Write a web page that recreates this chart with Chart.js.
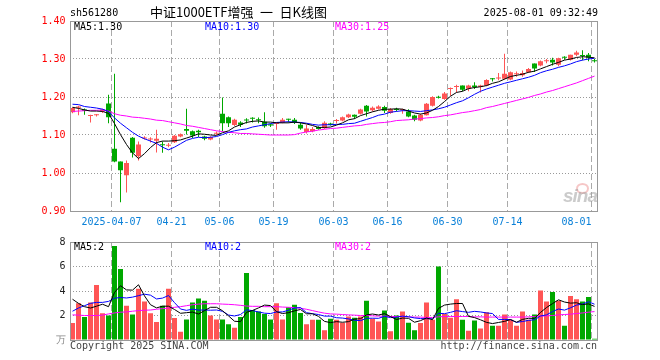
<!DOCTYPE html>
<html><head><meta charset="utf-8">
<script src="https://cdn.jsdelivr.net/npm/chart.js@4.4.1/dist/chart.umd.min.js"></script>
<style>
body{margin:0;background:#fff;}
#wrap{position:relative;width:660px;height:360px;overflow:hidden;background:#fff;font-family:'DejaVu Sans Mono',monospace;}
.t{position:absolute;font-size:10px;line-height:12px;white-space:pre;color:#000;}
canvas{position:absolute;left:0;}
</style></head><body>
<div id="wrap">
<canvas id="pc" width="660" height="232" style="top:0px"></canvas>
<canvas id="vc" width="660" height="128" style="top:232px"></canvas>
<div class="t" style="left:70px;top:7px;">sh561280</div>
<div class="t" style="left:150px;top:3px;font-family:'Noto Sans CJK SC';font-size:13px;line-height:18px;">中证1000ETF增强&#8194;一&#8194;日K线图</div>
<div class="t" style="right:62px;top:7px;">2025-08-01 09:32:49</div>
<div class="t" style="left:74px;top:21px;">MA5:1.30</div>
<div class="t" style="left:205px;top:21px;color:#0000ff;">MA10:1.30</div>
<div class="t" style="left:335px;top:21px;color:#ff00ff;">MA30:1.25</div>
<div class="t" style="left:74px;top:241px;">MA5:2</div>
<div class="t" style="left:205px;top:241px;color:#0000ff;">MA10:2</div>
<div class="t" style="left:335px;top:241px;color:#ff00ff;">MA30:2</div>
<div class="t" style="left:70px;top:340px;color:#444;">Copyright 2025 SINA.COM</div>
<div class="t" style="right:63px;top:340px;color:#444;">http://finance.sina.com.cn</div>
<div style="position:absolute;left:576px;top:183px;width:9px;height:7px;border-radius:50%;border:2px solid rgba(235,130,130,0.45);"></div>
<div class="t" style="left:563px;top:186px;font-family:'Liberation Sans';font-weight:bold;font-style:italic;font-size:19px;line-height:20px;color:rgba(160,160,160,0.55);letter-spacing:-1px;">sina</div>
</div>
<script>
const categories = [
'2025-03-26','2025-03-27','2025-03-28','2025-03-31','2025-04-01','2025-04-02','2025-04-03',
'2025-04-07','2025-04-08','2025-04-09','2025-04-10','2025-04-11',
'2025-04-14','2025-04-15','2025-04-16','2025-04-17','2025-04-18',
'2025-04-21','2025-04-22','2025-04-23','2025-04-24','2025-04-25',
'2025-04-28','2025-04-29','2025-04-30',
'2025-05-06','2025-05-07','2025-05-08','2025-05-09',
'2025-05-12','2025-05-13','2025-05-14','2025-05-15','2025-05-16',
'2025-05-19','2025-05-20','2025-05-21','2025-05-22','2025-05-23',
'2025-05-26','2025-05-27','2025-05-28','2025-05-29','2025-05-30',
'2025-06-03','2025-06-04','2025-06-05','2025-06-06',
'2025-06-09','2025-06-10','2025-06-11','2025-06-12','2025-06-13',
'2025-06-16','2025-06-17','2025-06-18','2025-06-19','2025-06-20',
'2025-06-23','2025-06-24','2025-06-25','2025-06-26','2025-06-27',
'2025-06-30',
'2025-07-01','2025-07-02','2025-07-03','2025-07-04',
'2025-07-07','2025-07-08','2025-07-09','2025-07-10','2025-07-11',
'2025-07-14','2025-07-15','2025-07-16','2025-07-17','2025-07-18',
'2025-07-21','2025-07-22','2025-07-23','2025-07-24','2025-07-25',
'2025-07-28','2025-07-29','2025-07-30','2025-07-31',
'2025-08-01'];

const tickDates = ['2025-04-07','2025-04-21','2025-05-06','2025-05-19','2025-06-03','2025-06-16','2025-06-30','2025-07-14','2025-08-01'];
const tickTexts = ['2025-04-07','04-21','05-06','05-19','06-03','06-16','06-30','07-14','08-01     '];
const priceTicks = [0.9, 1.0, 1.1, 1.2, 1.3, 1.4];
const volumeTicks = [0, 2, 4, 6, 8];

const openP = [1.160,1.172,1.167,1.150,1.152,1.162,1.183,1.064,1.030,0.994,
 1.093,1.044,1.091,1.088,1.085,1.075,1.072,1.081,1.096,1.116,
 1.110,1.111,1.096,1.088,1.103,1.156,1.147,1.126,1.133,1.139,
 1.144,1.140,1.135,1.128,1.129,1.133,1.142,1.140,1.127,1.108,
 1.110,1.121,1.118,1.130,1.137,1.138,1.147,1.153,1.156,1.177,
 1.165,1.169,1.174,1.158,1.168,1.165,1.162,1.151,1.138,1.152,
 1.177,1.199,1.195,1.221,1.226,1.230,1.222,1.230,1.227,1.230,
 1.248,1.249,1.248,1.246,1.260,1.257,1.265,1.288,1.283,1.294,
 1.298,1.285,1.304,1.298,1.311,1.309,1.311,1.295];
const highP = [1.173,1.177,1.170,1.153,1.155,1.169,1.206,1.261,1.030,1.033,
 1.095,1.083,1.097,1.094,1.114,1.083,1.079,1.100,1.104,1.169,
 1.112,1.114,1.098,1.097,1.109,1.199,1.149,1.143,1.136,1.144,
 1.147,1.146,1.160,1.130,1.133,1.145,1.143,1.145,1.133,1.127,
 1.121,1.123,1.136,1.132,1.142,1.149,1.156,1.154,1.169,1.179,
 1.175,1.178,1.177,1.171,1.172,1.169,1.168,1.153,1.156,1.184,
 1.202,1.203,1.213,1.225,1.232,1.230,1.232,1.239,1.232,1.247,
 1.250,1.263,1.314,1.267,1.267,1.270,1.276,1.288,1.296,1.300,
 1.303,1.303,1.307,1.311,1.322,1.323,1.316,1.300];
const lowP = [1.157,1.152,1.153,1.133,1.149,1.158,1.131,1.028,0.923,0.949,
 1.041,1.033,1.088,1.080,1.054,1.053,1.068,1.079,1.094,1.101,
 1.092,1.095,1.086,1.086,1.100,1.110,1.121,1.124,1.121,1.130,
 1.133,1.131,1.119,1.121,1.114,1.131,1.133,1.129,1.114,1.104,
 1.107,1.114,1.116,1.125,1.130,1.136,1.145,1.142,1.154,1.149,
 1.162,1.167,1.158,1.156,1.162,1.156,1.147,1.136,1.136,1.151,
 1.175,1.196,1.193,1.203,1.212,1.215,1.215,1.221,1.212,1.228,
 1.241,1.244,1.246,1.244,1.253,1.253,1.263,1.266,1.281,1.289,
 1.283,1.281,1.298,1.296,1.307,1.297,1.294,1.291];
const closeP = [1.171,1.175,1.163,1.152,1.154,1.167,1.147,1.030,1.007,1.026,
 1.053,1.075,1.093,1.090,1.090,1.073,1.074,1.098,1.102,1.111,
 1.099,1.107,1.090,1.095,1.106,1.131,1.131,1.140,1.127,1.138,
 1.143,1.139,1.123,1.125,1.131,1.140,1.140,1.133,1.117,1.117,
 1.116,1.116,1.132,1.126,1.139,1.147,1.154,1.148,1.167,1.162,
 1.172,1.175,1.164,1.168,1.166,1.167,1.149,1.140,1.153,1.182,
 1.200,1.198,1.209,1.223,1.228,1.219,1.230,1.226,1.230,1.245,
 1.247,1.251,1.261,1.265,1.262,1.263,1.274,1.275,1.294,1.295,
 1.291,1.302,1.303,1.311,1.317,1.308,1.303,1.294];
const ma5P = [1.173,1.170,1.166,1.163,1.163,1.162,1.157,1.130,1.101,1.075,
 1.053,1.038,1.051,1.067,1.080,1.084,1.084,1.085,1.087,1.092,
 1.097,1.103,1.102,1.100,1.099,1.106,1.111,1.121,1.127,1.133,
 1.136,1.137,1.134,1.134,1.132,1.132,1.132,1.134,1.132,1.129,
 1.125,1.120,1.120,1.121,1.126,1.132,1.140,1.143,1.151,1.156,
 1.161,1.165,1.168,1.168,1.169,1.168,1.163,1.158,1.155,1.158,
 1.165,1.175,1.188,1.202,1.212,1.215,1.222,1.225,1.227,1.230,
 1.236,1.240,1.247,1.254,1.257,1.260,1.265,1.268,1.274,1.280,
 1.286,1.291,1.297,1.300,1.304,1.306,1.305,1.303];
const ma10P = [1.181,1.180,1.175,1.173,1.171,1.168,1.162,1.145,1.131,1.119,
 1.107,1.097,1.090,1.084,1.078,1.068,1.061,1.068,1.077,1.086,
 1.091,1.094,1.093,1.094,1.096,1.101,1.107,1.111,1.114,1.116,
 1.121,1.124,1.127,1.130,1.133,1.134,1.135,1.134,1.133,1.131,
 1.128,1.126,1.127,1.127,1.128,1.128,1.130,1.131,1.136,1.141,
 1.146,1.152,1.155,1.160,1.162,1.164,1.164,1.163,1.162,1.164,
 1.166,1.169,1.173,1.179,1.185,1.190,1.198,1.207,1.215,1.221,
 1.226,1.231,1.236,1.240,1.244,1.248,1.252,1.257,1.264,1.269,
 1.273,1.278,1.282,1.287,1.293,1.297,1.300,1.302];
const ma30P = [1.162,1.163,1.164,1.165,1.165,1.166,1.163,1.156,1.152,1.150,
 1.147,1.146,1.144,1.142,1.139,1.138,1.135,1.132,1.129,1.125,
 1.123,1.120,1.117,1.114,1.111,1.109,1.107,1.106,1.104,1.104,
 1.103,1.102,1.101,1.100,1.100,1.100,1.100,1.101,1.105,1.108,
 1.110,1.113,1.115,1.117,1.118,1.120,1.122,1.124,1.125,1.128,
 1.130,1.132,1.133,1.135,1.138,1.139,1.140,1.142,1.143,1.145,
 1.146,1.148,1.151,1.153,1.156,1.159,1.161,1.164,1.167,1.172,
 1.175,1.179,1.183,1.187,1.191,1.195,1.199,1.204,1.208,1.213,
 1.217,1.222,1.227,1.232,1.237,1.243,1.249,1.255];

const volume = [1.39,2.99,1.87,3.07,4.48,2.19,2.00,7.68,5.79,2.80,
 2.08,4.19,3.15,2.19,1.47,2.80,4.19,1.79,0.67,1.68,
 3.07,3.39,3.20,2.00,1.68,1.68,1.28,0.99,1.87,5.47,
 2.45,2.32,2.13,1.68,2.99,1.68,2.67,2.88,2.21,1.28,
 1.65,1.65,0.80,1.73,1.65,1.41,1.92,1.81,1.92,3.20,
 1.73,1.52,2.40,0.72,2.00,2.32,1.41,0.80,1.39,3.07,
 1.65,6.00,2.13,1.81,3.33,1.65,0.75,1.60,0.93,2.27,
 1.17,1.17,2.08,1.65,1.17,2.32,1.65,2.08,4.05,3.15,
 3.92,3.20,1.17,3.60,3.33,3.15,3.52,0.10];
const ma5V = [3.33,2.99,2.72,2.61,2.76,2.92,2.72,3.88,4.43,4.09,
 4.07,4.51,3.60,2.88,2.62,2.76,2.76,2.49,2.18,2.23,
 2.28,2.12,2.40,2.67,2.67,2.39,1.97,1.53,1.50,2.26,
 2.41,2.62,2.85,2.81,2.31,2.16,2.23,2.38,2.49,2.14,
 2.14,1.93,1.52,1.42,1.50,1.45,1.50,1.70,1.74,2.05,
 2.12,2.04,2.15,1.91,1.67,1.79,1.77,1.45,1.58,1.80,
 1.66,2.58,2.85,2.93,2.98,2.98,1.93,1.83,1.65,1.44,
 1.34,1.43,1.52,1.67,1.45,1.68,1.77,1.77,2.25,2.65,
 2.97,3.28,3.10,3.01,3.04,2.89,2.95,2.74];
const ma10V = [2.35,2.61,2.80,2.99,3.07,3.07,3.15,3.41,3.47,3.43,
 3.50,3.62,3.74,3.66,3.35,3.42,3.63,3.05,2.53,2.42,
 2.52,2.44,2.45,2.43,2.45,2.34,2.04,1.96,2.08,2.46,
 2.40,2.29,2.19,2.16,2.29,2.29,2.43,2.61,2.65,2.23,
 2.15,2.08,1.95,1.95,1.82,1.79,1.72,1.61,1.58,1.77,
 1.78,1.77,1.93,1.83,1.86,1.95,1.90,1.80,1.75,1.74,
 1.73,2.18,2.15,2.26,2.39,2.32,2.26,2.34,2.29,2.21,
 2.16,1.68,1.68,1.66,1.44,1.51,1.60,1.65,1.96,2.05,
 2.32,2.53,2.44,2.63,2.85,2.93,3.12,2.92];
const ma30V = [2.05,2.03,2.00,2.00,2.00,2.03,2.13,2.21,2.27,2.29,
 2.35,2.40,2.43,2.45,2.51,2.56,2.61,2.67,2.72,2.80,
 2.88,2.93,2.96,2.96,2.96,2.93,2.91,2.88,2.83,2.77,
 2.75,2.75,2.72,2.72,2.72,2.69,2.67,2.64,2.59,2.51,
 2.40,2.29,2.19,2.13,2.11,2.08,2.05,2.03,2.00,2.00,
 1.97,1.95,1.95,1.92,1.92,1.92,1.89,1.87,1.87,1.84,
 1.84,1.89,1.92,1.92,1.92,1.92,1.92,1.89,1.89,1.87,
 1.87,1.87,1.87,1.87,1.87,1.87,1.89,1.92,1.95,1.97,
 2.00,2.05,2.08,2.11,2.16,2.21,2.27,2.32];

const UP = '#ff5555', DOWN = '#00a800';
const colors = closeP.map((c, i) => c >= openP[i] ? UP : DOWN);
const MONO = "'DejaVu Sans Mono'";

const boxPlugin = {
  id: 'box',
  afterDraw(chart) {
    const {ctx, chartArea: a} = chart;
    ctx.save();
    ctx.strokeStyle = '#999';
    ctx.lineWidth = 1;
    const l = Math.round(a.left) + 0.5, r = Math.round(a.right) - 0.5;
    const t = Math.round(a.top) + 0.5, b = Math.round(a.bottom) + 0.5;
    ctx.strokeRect(l, t, r - l, b - t);
    ctx.restore();
  }
};

function xScale(showLabels) {
  return {
    type: 'category',
    offset: true,
    grid: {
      offset: true, drawTicks: false, lineWidth: 1,
      color: c => tickDates.includes(categories[c.index]) ? '#aaaaaa' : 'rgba(0,0,0,0)'
    },
    border: {display: false, dash: [6, 3]},
    ticks: {
      display: showLabels, autoSkip: false, maxRotation: 0, minRotation: 0,
      color: '#0a80d8', padding: 5, labelOffset: -3,
      font: {family: MONO, size: 10},
      callback: (v, i) => {
        const k = tickDates.indexOf(categories[i]);
        return k >= 0 ? tickTexts[k] : '';
      }
    },
    afterFit: s => { s.height = showLabels ? 21 : 0; }
  };
}
function lineDs(data, color) {
  return {type: 'line', data, borderColor: color, borderWidth: 1, pointRadius: 0,
          tension: 0, fill: false, order: 0};
}

new Chart(document.getElementById('pc'), {
  type: 'bar',
  data: {
    labels: categories,
    datasets: [
      lineDs(ma5P, '#000000'),
      lineDs(ma10P, '#0000ff'),
      lineDs(ma30P, '#ff00ff'),
      {data: openP.map((o, i) => [o, closeP[i]]), backgroundColor: colors, barThickness: 5,
       minBarLength: 1, grouped: false, order: 1, inflateAmount: 0, borderWidth: 0},
      {data: lowP.map((l, i) => [l, highP[i]]), backgroundColor: colors, barThickness: 1,
       minBarLength: 1, grouped: false, order: 2, inflateAmount: 0, borderWidth: 0}
    ]
  },
  options: {
    responsive: false, animation: false, devicePixelRatio: 1, events: [],
    layout: {padding: {left: 0, right: 62.5, top: 21, bottom: 0}},
    plugins: {legend: {display: false}, tooltip: {enabled: false}},
    scales: {
      x: xScale(true),
      y: {
        type: 'linear', min: 0.9, max: 1.4, beginAtZero: false,
        afterBuildTicks: s => { s.ticks = priceTicks.map(v => ({value: v})); },
        grid: {drawTicks: false, lineWidth: 1,
               color: c => (c.tick && c.tick.value > 0.95 && c.tick.value < 1.35) ? '#999999' : 'rgba(0,0,0,0)'},
        border: {display: false, dash: [1, 2]},
        ticks: {color: '#ff0000', padding: 4, font: {family: MONO, size: 10},
                callback: v => Number(v).toFixed(2)},
        afterFit: s => { s.width = 69.5; }
      }
    }
  },
  plugins: [boxPlugin]
});

new Chart(document.getElementById('vc'), {
  type: 'bar',
  data: {
    labels: categories,
    datasets: [
      lineDs(ma5V, '#000000'),
      lineDs(ma10V, '#0000ff'),
      lineDs(ma30V, '#ff00ff'),
      {data: volume, backgroundColor: colors, barThickness: 5, minBarLength: 1,
       grouped: false, order: 1, inflateAmount: 0, borderWidth: 0}
    ]
  },
  options: {
    responsive: false, animation: false, devicePixelRatio: 1, events: [],
    layout: {padding: {left: 0, right: 62.5, top: 8, bottom: 20}},
    plugins: {legend: {display: false}, tooltip: {enabled: false}},
    scales: {
      x: xScale(false),
      y: {
        type: 'linear', min: 0, max: 8, beginAtZero: true,
        afterBuildTicks: s => { s.ticks = volumeTicks.map(v => ({value: v})); },
        grid: {drawTicks: false, lineWidth: 1,
               color: c => (c.tick && c.tick.value > 0.5 && c.tick.value < 7.5) ? '#999999' : 'rgba(0,0,0,0)'},
        border: {display: false, dash: [1, 2]},
        ticks: {padding: 4, font: {family: MONO, size: 10},
                color: c => (c.tick && c.tick.value === 0) ? '#888888' : '#222222',
                callback: v => v === 0 ? '万' : String(v)},
        afterFit: s => { s.width = 69.5; }
      }
    }
  },
  plugins: [boxPlugin]
});
</script>
</body></html>
